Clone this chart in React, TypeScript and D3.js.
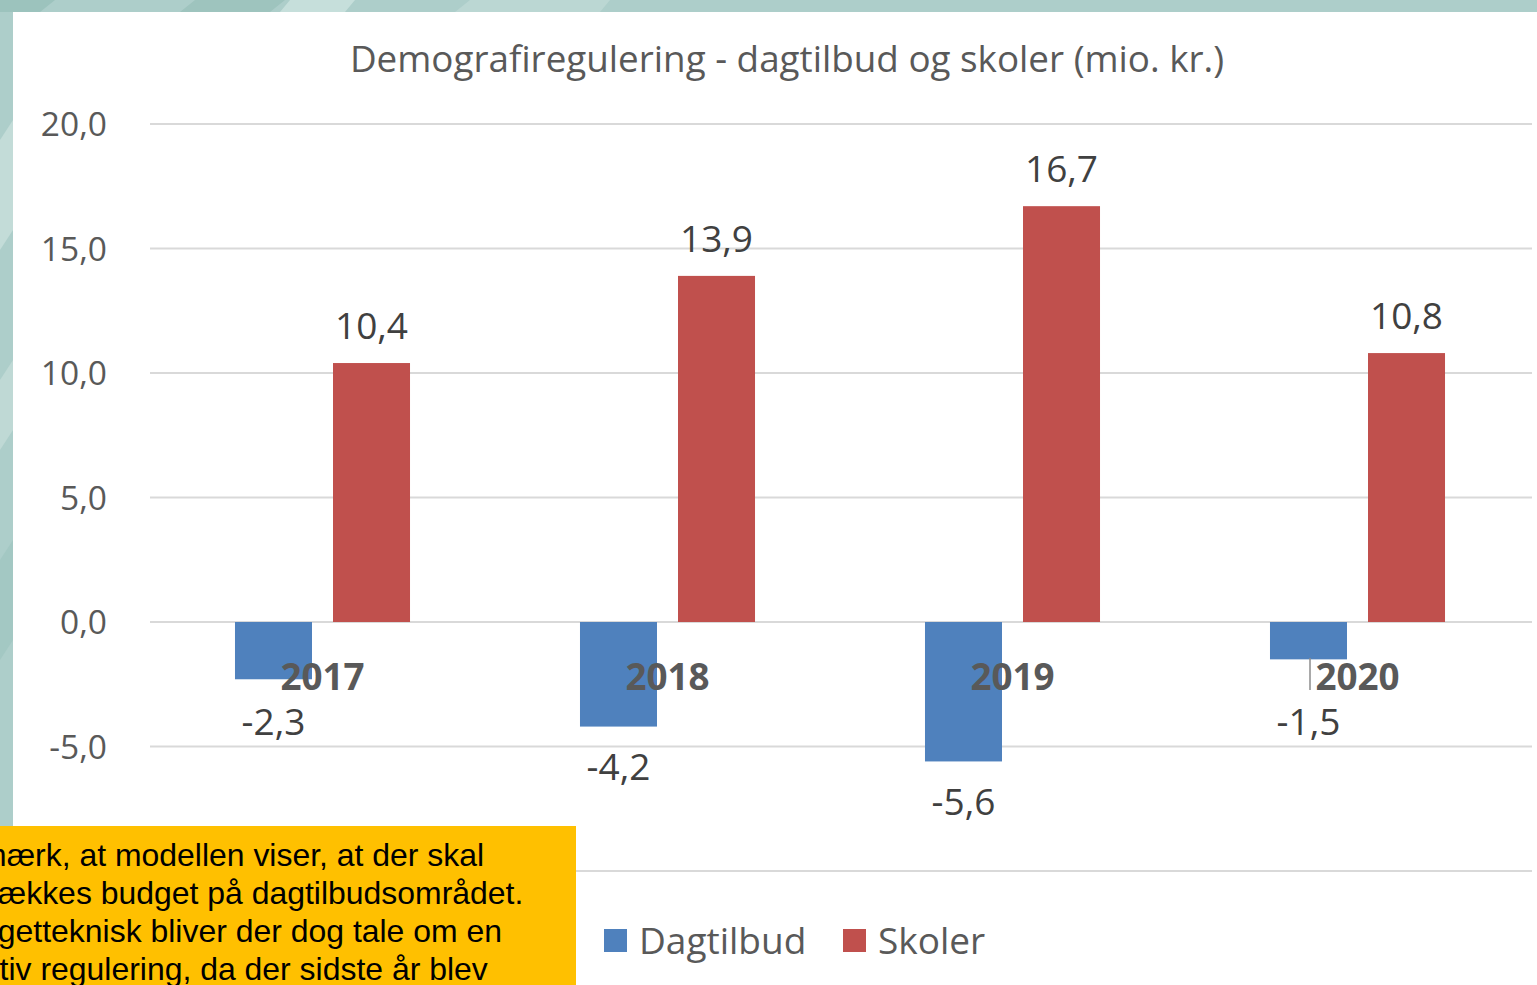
import React from 'react';
import * as d3 from 'd3';

const categories = ['2017', '2018', '2019', '2020'];
const seriesNames = ['Dagtilbud', 'Skoler'];
const dagtilbud = [-2.3, -4.2, -5.6, -1.5];
const skoler = [10.4, 13.9, 16.7, 10.8];
const yTicks = [-10, -5, 0, 5, 10, 15, 20];
const title = 'Demografiregulering - dagtilbud og skoler (mio. kr.)';
const noteLines = [
  'Bemærk, at modellen viser, at der skal',
  'fratrækkes budget på dagtilbudsområdet.',
  'Budgetteknisk bliver der dog tale om en',
  'positiv regulering, da der sidste år blev',
];

const W = 1537;
const H = 985;
const COLORS = ['#4F81BD', '#C0504D'];
const TEXT = '#595959';
const FONT = "'Open Sans', sans-serif";

const fmt = d3.formatLocale({ decimal: ',', thousands: '.', grouping: [3], currency: ['', ' kr'], minus: '-' }).format('.1f');

export default function App() {
  const x = d3.scaleBand<string>().domain(categories).range([150, 1530]).paddingInner(0).paddingOuter(0);
  const sub = d3
    .scaleBand<string>()
    .domain(seriesNames)
    .range([0, x.bandwidth()])
    .paddingInner(21 / 98)
    .paddingOuter(0.867);
  const y = d3.scaleLinear().domain([-10, 20]).range([871, 124]);
  const y0 = y(0);
  const series = [dagtilbud, skoler];

  return (
    <svg
      width={W}
      height={H}
      style={{ position: 'absolute', left: 0, top: 0, display: 'block' }}
      xmlns="http://www.w3.org/2000/svg"
    >
      {/* slide background */}
      <rect x={0} y={0} width={W} height={H} fill="#ADCECA" />
      <polygon points="0,0 55,0 40,12 0,12" fill="#9CC3BD" />
      <polygon points="195,0 285,0 270,12 180,12" fill="#9EC4BE" />
      <polygon points="290,0 355,0 345,12 280,12" fill="#C6DFDB" />
      <polygon points="470,0 610,0 600,12 455,12" fill="#BBD7D3" />
      <polygon points="0,140 13,120 13,230 0,250" fill="#C3DCD8" />
      <polygon points="0,380 13,360 13,430 0,450" fill="#BFD9D5" />
      <polygon points="0,560 13,540 13,640 0,660" fill="#A3C8C3" />
      <rect x={13} y={12} width={W - 13} height={H - 12} fill="#FFFFFF" />

      {/* title */}
      <text x={787} y={72} textAnchor="middle" fontFamily={FONT} fontSize={36.8} fill={TEXT}>
        {title}
      </text>

      {/* gridlines and y labels */}
      {yTicks.map((t) => (
        <g key={t}>
          <line x1={150} x2={1532} y1={y(t)} y2={y(t)} stroke="#D9D9D9" strokeWidth={2} />
          <text
            x={107}
            y={y(t)}
            dy="0.36em"
            textAnchor="end"
            fontFamily={FONT}
            fontSize={33.5}
            fill={TEXT}
          >
            {fmt(t)}
          </text>
        </g>
      ))}

      {/* bars */}
      {series.map((vals, si) =>
        vals.map((v, i) => {
          const bx = (x(categories[i]) as number) + (sub(seriesNames[si]) as number);
          const top = Math.min(y(v), y0);
          const h = Math.abs(y(v) - y0);
          return (
            <rect key={`${si}-${i}`} x={bx} y={top} width={sub.bandwidth()} height={h} fill={COLORS[si]} />
          );
        })
      )}

      {/* category labels */}
      {categories.map((c) => (
        <text
          key={c}
          x={(x(c) as number) + x.bandwidth() / 2}
          y={690}
          textAnchor="middle"
          fontFamily={FONT}
          fontWeight="bold"
          fontSize={36.8}
          fill={TEXT}
        >
          {c}
        </text>
      ))}
      <line x1={1310} x2={1310} y1={658} y2={690} stroke="#8C8C8C" strokeWidth={1.5} />

      {/* value labels */}
      {series.map((vals, si) =>
        vals.map((v, i) => {
          const cx = (x(categories[i]) as number) + (sub(seriesNames[si]) as number) + sub.bandwidth() / 2;
          const cy = v >= 0 ? y(v) - 37 : Math.max(y(v) + 40, y0 + 100);
          return (
            <text
              key={`l-${si}-${i}`}
              x={cx}
              y={cy}
              dy="0.36em"
              textAnchor="middle"
              fontFamily={FONT}
              fontSize={37}
              fill="#404040"
            >
              {fmt(v)}
            </text>
          );
        })
      )}

      {/* legend */}
      {seriesNames.map((s, i) => {
        const lx = [604, 843][i];
        return (
          <g key={s}>
            <rect x={lx} y={929} width={23} height={23} fill={COLORS[i]} />
            <text x={lx + 35} y={941} dy="0.36em" fontFamily={FONT} fontSize={37} fill={TEXT}>
              {s}
            </text>
          </g>
        );
      })}

      {/* note box */}
      <rect x={0} y={826} width={576} height={H - 826} fill="#FFC000" />
      {noteLines.map((line, i) => (
        <text
          key={i}
          x={-59}
          y={866 + i * 38}
          fontFamily="'Liberation Sans', Arial, sans-serif"
          fontSize={31.95}
          fill="#000000"
        >
          {line}
        </text>
      ))}
    </svg>
  );
}
